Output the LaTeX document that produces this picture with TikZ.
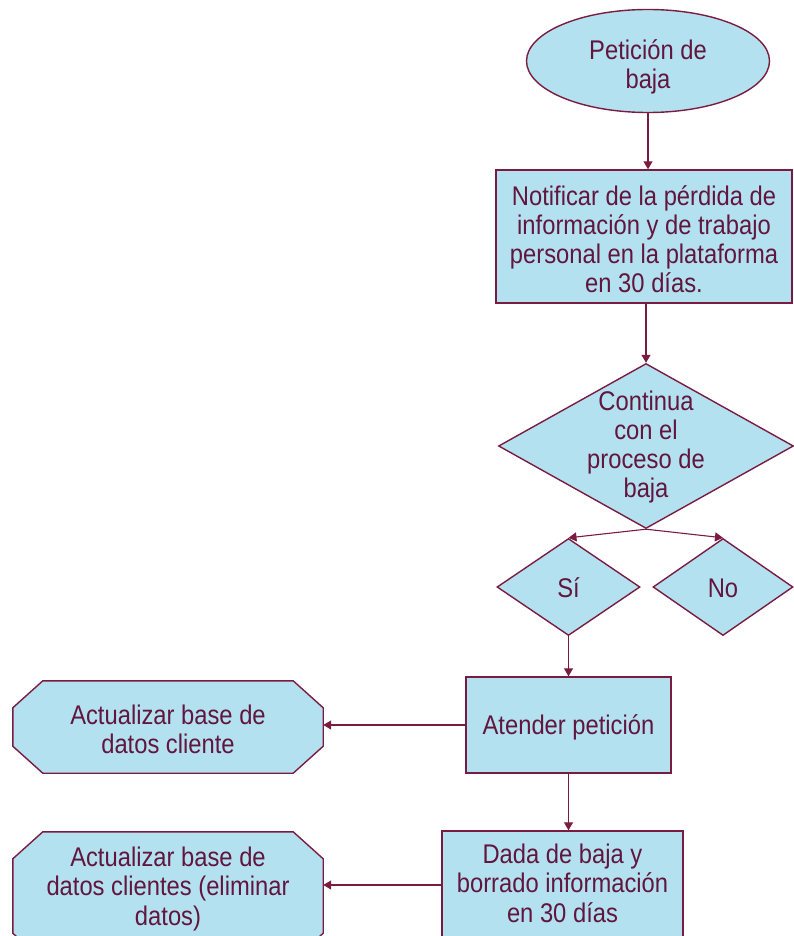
\documentclass[tikz,border=0pt]{standalone}
\usepackage{graphicx}
\usepackage{fontspec}
\setmainfont{Liberation Sans}
\usetikzlibrary{shapes.geometric,arrows.meta,calc}
\definecolor{fillc}{RGB}{180,225,239}
\definecolor{linec}{RGB}{122,28,66}
\definecolor{textc}{RGB}{96,22,62}
\newcommand{\lbl}[1]{\scalebox{0.88}[1]{\fontsize{27}{29.2}\selectfont\begin{tabular}{@{}c@{}}#1\end{tabular}}}
\newcommand{\octo}[1]{%
  \filldraw[draw=linec,fill=fillc,line width=1.4pt,line join=miter]
    ($(#1.north west)+(30,0)$) -- ($(#1.north east)+(-30,0)$) --
    ($(#1.north east)+(0,27)$) -- ($(#1.south east)+(0,-27)$) --
    ($(#1.south east)+(-30,0)$) -- ($(#1.south west)+(30,0)$) --
    ($(#1.south west)+(0,-27)$) -- ($(#1.north west)+(0,27)$) -- cycle;}
\begin{document}
\begin{tikzpicture}[x=1pt,y=-1pt,
  shp/.style={draw=linec, fill=fillc, line width=1.4pt, inner sep=0pt},
  frame/.style={inner sep=0pt, minimum width=310pt},
  txt/.style={text=textc, inner sep=0pt},
  conn/.style={draw=linec, line width=1.1pt, -{Triangle[length=8pt,width=9pt]}}]
\useasboundingbox (0,0) rectangle (794,936);
\clip (0,0) rectangle (794,936);

% shapes
\node[shp, ellipse, minimum width=243pt, minimum height=103pt] (e) at (648,61) {};
\node[shp, rectangle, minimum width=296pt, minimum height=133pt] (b1) at (644,236.5) {};
\node[shp, diamond, minimum width=295pt, minimum height=165pt] (d) at (646,446) {};
\node[shp, diamond, minimum width=143pt, minimum height=97pt] (si) at (568.5,587) {};
\node[shp, diamond, minimum width=140pt, minimum height=97pt] (no) at (723,587) {};
\node[shp, rectangle, minimum width=205pt, minimum height=96pt] (at) at (568.5,725) {};
\node[shp, rectangle, minimum width=241pt, minimum height=108pt] (dada) at (562.5,885) {};
\node[frame, minimum height=92pt] (o1) at (168,727) {};
\node[frame, minimum height=128pt] (o2) at (168,896) {};
\octo{o1}
\octo{o2}

% texts
\node[txt] (te) at (648,68) {\lbl{Petición de\\baja}};
\node[txt] (tb1) at (644,243) {\lbl{Notificar de la pérdida de\\información y de trabajo\\personal en la plataforma\\en 30 días.}};
\node[txt] (td) at (646,448) {\lbl{Continua\\con el\\proceso de\\baja}};
\node[txt] (tsi) at (568.5,592) {\lbl{Sí}};
\node[txt] (tno) at (723,592) {\lbl{No}};
\node[txt] (tat) at (568.5,729) {\lbl{Atender petición}};
\node[txt] (tdada) at (562.5,887) {\lbl{Dada de baja y\\borrado información\\en 30 días}};
\node[txt] (to1) at (168,733) {\lbl{Actualizar base de\\datos cliente}};
\node[txt] (to2) at (168,890) {\lbl{Actualizar base de\\datos clientes (eliminar\\datos)}};

% connectors
\draw[conn] (e.south) -- (e.south |- b1.north);
\draw[conn] (b1.south -| d.north) -- (d.north);
\draw[conn] (d.south) -- (si.north);
\draw[conn] (d.south) -- (no.north);
\draw[conn] (si.south) -- (si.south |- at.north);
\draw[conn] (at.west) -- (at.west -| o1.east);
\draw[conn] (at.south) -- (at.south |- dada.north);
\draw[conn] (dada.west) -- (dada.west -| o2.east);
\end{tikzpicture}
\end{document}
